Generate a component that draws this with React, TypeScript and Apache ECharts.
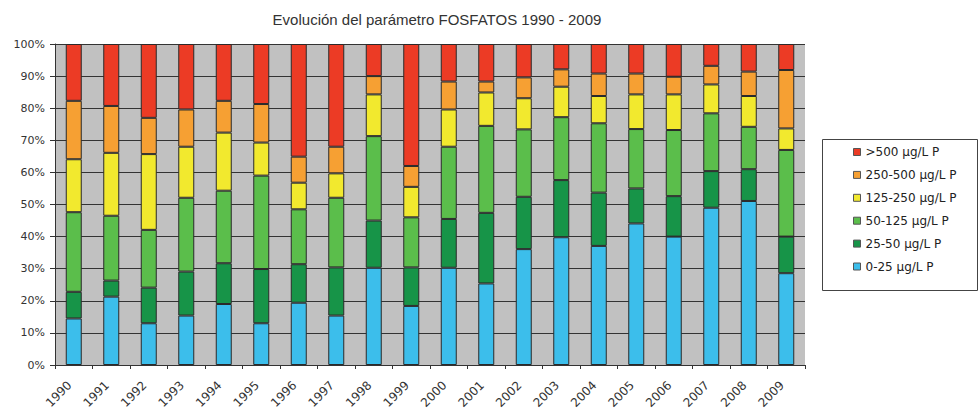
import React, { useEffect, useRef } from "react";
import * as echarts from "echarts";

const years = [
  "1990", "1991", "1992", "1993", "1994", "1995", "1996", "1997", "1998", "1999",
  "2000", "2001", "2002", "2003", "2004", "2005", "2006", "2007", "2008", "2009",
];

const seriesNames = [
  "0-25 µg/L P",
  "25-50 µg/L P",
  "50-125 µg/L P",
  "125-250 µg/L P",
  "250-500 µg/L P",
  ">500 µg/L P",
];

const v0_25 = [14.5, 21.3, 13.0, 15.4, 19.0, 13.0, 19.4, 15.4, 30.3, 18.4, 30.3, 25.4, 36.1, 39.8, 37.1, 44.1, 40.0, 49.0, 51.1, 28.6];
const v25_50 = [8.3, 5.0, 11.1, 13.7, 12.7, 16.9, 12.0, 15.0, 14.7, 12.0, 15.2, 22.0, 16.3, 17.8, 16.6, 10.9, 12.6, 11.4, 9.9, 11.4];
const v50_125 = [24.8, 20.2, 18.0, 23.0, 22.6, 29.1, 17.1, 21.7, 26.3, 15.6, 22.5, 27.1, 21.0, 19.6, 21.6, 18.5, 20.6, 18.0, 13.2, 27.0];
const v125_250 = [16.5, 19.6, 23.6, 15.9, 18.1, 10.3, 8.3, 7.6, 13.0, 9.5, 11.6, 10.4, 9.7, 9.5, 8.5, 10.8, 11.1, 9.0, 9.6, 6.7];
const v250_500 = [18.2, 14.6, 11.3, 11.6, 9.9, 12.0, 8.1, 8.3, 5.7, 6.5, 8.7, 3.4, 6.5, 5.4, 7.0, 6.5, 5.5, 5.8, 7.6, 18.2];
const v500 = [17.7, 19.3, 23.0, 20.4, 17.7, 18.7, 35.1, 32.0, 10.0, 38.0, 11.7, 11.7, 10.4, 7.9, 9.2, 9.2, 10.2, 6.8, 8.6, 8.1];

const seriesValues = [v0_25, v25_50, v50_125, v125_250, v250_500, v500];
const seriesColors = ["#3CBEEB", "#179448", "#5BBE4B", "#F2E92E", "#F6A033", "#EC3B25"];

const yTicks = [0, 10, 20, 30, 40, 50, 60, 70, 80, 90, 100];

export default function App() {
  const ref = useRef<HTMLDivElement>(null);

  useEffect(() => {
    document.body.style.margin = "0";
    if (!ref.current) return;
    const chart = echarts.init(ref.current, undefined, { renderer: "svg" });

    const series = seriesNames.map((name, i) => ({
      name,
      type: "bar",
      stack: "total",
      barWidth: 16,
      data: seriesValues[i],
      itemStyle: {
        color: seriesColors[i],
        borderColor: "#2a2a2a",
        borderWidth: 1,
      },
    }));

    chart.setOption({
      animation: false,
      title: {
        text: "Evolución del parámetro FOSFATOS 1990 - 2009",
        left: 432,
        textAlign: "center",
        top: 7,
        textStyle: {
          fontFamily: "Liberation Sans",
          fontSize: 15,
          fontWeight: "normal",
          color: "#333",
        },
      },
      graphic: [
        {
          type: "rect",
          left: 822,
          top: 139,
          z: 0,
          shape: { width: 155, height: 151 },
          style: { fill: "#fff", stroke: "#444", lineWidth: 1 },
        },
      ],
      legend: {
        orient: "vertical",
        left: 853,
        top: 145,
        padding: 0,
        z: 10,
        itemWidth: 7,
        itemHeight: 7,
        itemGap: 8.9,
        icon: "rect",
        data: [...seriesNames].reverse(),
        textStyle: {
          fontFamily: "DejaVu Sans",
          fontSize: 12,
          lineHeight: 14,
          color: "#222",
        },
        itemStyle: { borderColor: "#555", borderWidth: 1 },
      },
      grid: {
        left: 55,
        top: 44,
        right: 173,
        bottom: 48,
        show: true,
        backgroundColor: "#C1C1C1",
        borderWidth: 0,
        outerBoundsMode: "none",
        containLabel: false,
      },
      xAxis: {
        type: "category",
        data: years,
        boundaryGap: true,
        axisLine: { lineStyle: { color: "#333", width: 1 } },
        axisTick: { show: true, length: 4, lineStyle: { color: "#333" } },
        axisLabel: {
          rotate: 45,
          fontFamily: "DejaVu Sans",
          fontSize: 12,
          color: "#333",
          margin: 14,
          padding: [0, 6, 0, 0],
        },
      },
      yAxis: {
        type: "value",
        min: yTicks[0],
        max: yTicks[yTicks.length - 1],
        interval: 10,
        axisLine: { show: true, lineStyle: { color: "#333", width: 1 } },
        axisTick: { show: true, length: 5, lineStyle: { color: "#333" } },
        axisLabel: {
          formatter: "{value}%",
          fontFamily: "DejaVu Sans",
          fontSize: 11,
          color: "#333",
          margin: 10,
        },
        splitLine: { show: true, lineStyle: { color: "#333", width: 1 } },
      },
      series,
    });

    return () => chart.dispose();
  }, []);

  return <div ref={ref} style={{ width: 978, height: 413 }} />;
}
